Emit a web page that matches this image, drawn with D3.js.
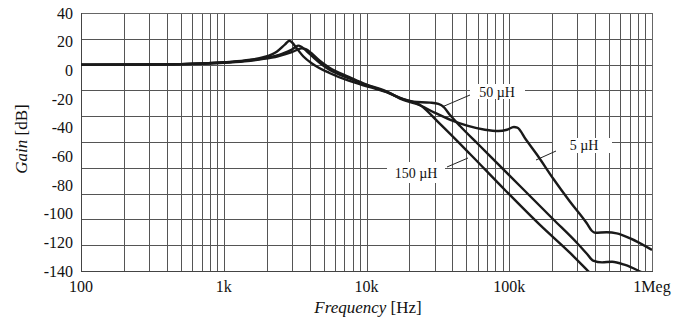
<!DOCTYPE html>
<html><head><meta charset="utf-8">
<script src="https://cdn.jsdelivr.net/npm/d3@7/dist/d3.min.js"></script>
<style>body{margin:0;background:#fff}svg{display:block}</style>
</head><body>
<svg id="chart" width="686" height="321"></svg>
<script>
// ---------- data ----------
const yTickLabels = [40, 20, 0, -20, -40, -60, -80, -100, -120, -140];
const xTickValues = [100, 1000, 10000, 100000, 1000000];
const xTickLabels = ["100", "1k", "10k", "100k", "1Meg"];
const seriesNames = ["150 µH", "50 µH", "5 µH"];

const freq150 = [100, 300, 500, 700, 1000, 1400, 1900, 2350, 2690, 2880, 3000, 3250, 3600, 4200, 5500, 7500, 9500, 14600, 17200, 23700, 32730, 53100, 93300, 164100, 266600, 356600, 432500];
const gain150 = [0, 0.1, 0.4, 0.9, 1.8, 3.2, 5.7, 10, 15.7, 18.5, 17.3, 12.5, 6.5, 0.5, -6.5, -12.5, -16, -22.5, -26, -31.3, -46, -69.3, -97.2, -124.3, -146, -160, -169.3];

const freq50 = [100, 300, 500, 700, 1000, 1400, 1900, 2400, 2900, 3150, 3330, 3500, 3800, 4300, 5000, 5500, 7500, 9500, 14600, 17200, 21290, 27860, 31860, 34530, 38470, 45200, 62400, 118900, 202300, 298500, 350900, 386600, 446800, 525000, 647600, 785000, 893000];
const gain50 = [0, 0.1, 0.35, 0.8, 1.6, 2.9, 4.8, 7.3, 10.8, 13.2, 14.7, 13.8, 10.5, 5, -1, -4, -10.5, -15, -22.3, -25.8, -28.8, -29.5, -30.5, -32.6, -39.1, -47.6, -63.1, -94.1, -119.7, -138.3, -146.8, -151.9, -153.3, -152.8, -155.3, -159.2, -162.3];

const freq5 = [100, 300, 500, 700, 1000, 1400, 1900, 2400, 3000, 3520, 3750, 4100, 4700, 5500, 7500, 9500, 14600, 17180, 23880, 29720, 39080, 51400, 67600, 84100, 96300, 107900, 113800, 130800, 155700, 203500, 266600, 349200, 378500, 399300, 482000, 566200, 704000, 1000000];
const gain5 = [0, 0.1, 0.3, 0.7, 1.4, 2.6, 4.4, 6.5, 9.6, 12.6, 12, 9, 3, -2.5, -9.5, -14.5, -22, -26.4, -31.7, -37, -43, -47.5, -50.5, -51.5, -50.5, -48.4, -48.8, -58.1, -69.5, -88.5, -106.3, -123, -128.8, -130.3, -130, -130.8, -134.7, -143.7];

// ---------- layout ----------
const L = 81, R = 652, T = 13, B = 271;
const FONT = "'Liberation Serif','Times New Roman',serif";
const svg = d3.select("#chart");

const x = d3.scaleLog().domain([100, 1e6]).range([L, R]);
const y = d3.scaleLinear().domain([40, -160]).range([T, B]);       // grid / data scale
const yLab = d3.scaleLinear().domain([40, -140]).range([T, B]);    // label positions as printed

// grid
const g = svg.append("g").attr("shape-rendering", "crispEdges");
const vLines = [];
for (let d = 100; d < 1e6; d *= 10) for (let k = 2; k <= 9; k++) vLines.push(d * k);
[1000, 10000, 100000].forEach(v => vLines.push(v));
g.selectAll("line.v").data(vLines).join("line")
  .attr("x1", d => Math.round(x(d)) + 0.5).attr("x2", d => Math.round(x(d)) + 0.5)
  .attr("y1", T).attr("y2", B).attr("stroke", "#555").attr("stroke-width", 1);
const hLines = d3.range(20, -160, -20);
g.selectAll("line.h").data(hLines).join("line")
  .attr("x1", L).attr("x2", R)
  .attr("y1", d => Math.round(y(d)) + 0.5).attr("y2", d => Math.round(y(d)) + 0.5)
  .attr("stroke", "#555").attr("stroke-width", 1);
g.append("rect").attr("x", L + 0.5).attr("y", T + 0.5).attr("width", R - L).attr("height", B - T)
  .attr("fill", "none").attr("stroke", "#666").attr("stroke-width", 1);
g.append("line").attr("x1", L + 0.5).attr("x2", L + 0.5).attr("y1", T).attr("y2", B + 1).attr("stroke", "#444").attr("stroke-width", 1.5);
g.append("line").attr("x1", L).attr("x2", R + 1).attr("y1", B + 0.5).attr("y2", B + 0.5).attr("stroke", "#444").attr("stroke-width", 1.5);

// label masks + pointers
const labels = [
  {name: seriesNames[1], tx: 497, ty: 97, mask: [470, 84, 55, 15], ptr: [470, 95, 442, 107]},
  {name: seriesNames[0], tx: 416, ty: 178, mask: [387, 162, 58, 21], ptr: [447, 167, 468, 158]},
  {name: seriesNames[2], tx: 584, ty: 150, mask: [553, 138, 59, 15], ptr: [556, 151, 536, 160]}
];
svg.selectAll("rect.mask").data(labels).join("rect")
  .attr("x", d => d.mask[0]).attr("y", d => d.mask[1]).attr("width", d => d.mask[2]).attr("height", d => d.mask[3])
  .attr("fill", "#fff");
svg.selectAll("line.ptr").data(labels).join("line")
  .attr("x1", d => d.ptr[0]).attr("y1", d => d.ptr[1]).attr("x2", d => d.ptr[2]).attr("y2", d => d.ptr[3])
  .attr("stroke", "#222").attr("stroke-width", 1);

// curves
svg.append("clipPath").attr("id", "clip").append("rect")
  .attr("x", L).attr("y", T).attr("width", R - L).attr("height", B - T);
const series = [
  {f: freq150, g: gain150},
  {f: freq50, g: gain50},
  {f: freq5, g: gain5}
];
const line = d3.line().x(d => x(d[0])).y(d => y(d[1])).curve(d3.curveMonotoneX);
svg.append("g").attr("clip-path", "url(#clip)")
  .selectAll("path").data(series).join("path")
  .attr("d", s => line(s.f.map((f, i) => [f, s.g[i]])))
  .attr("fill", "none").attr("stroke", "#1a1a1a").attr("stroke-width", 2.4)
  .attr("stroke-linejoin", "round");

svg.selectAll("text.lbl").data(labels).join("text")
  .attr("x", d => d.tx).attr("y", d => d.ty).attr("text-anchor", "middle")
  .attr("font-family", FONT).attr("font-size", 14).attr("fill", "#111").text(d => d.name);

// tick labels
svg.selectAll("text.yt").data(yTickLabels).join("text")
  .attr("x", 73).attr("y", d => yLab(d)).attr("dy", "0.35em").attr("text-anchor", "end")
  .attr("font-family", FONT).attr("font-size", 16).attr("fill", "#111").text(d => d);
svg.selectAll("text.xt").data(xTickValues).join("text")
  .attr("x", d => x(d)).attr("y", 292).attr("text-anchor", "middle")
  .attr("font-family", FONT).attr("font-size", 16).attr("fill", "#111").text((d, i) => xTickLabels[i]);

// axis titles
const xt = svg.append("text").attr("x", 368).attr("y", 313).attr("text-anchor", "middle")
  .attr("font-family", FONT).attr("font-size", 17).attr("fill", "#111");
xt.append("tspan").attr("font-style", "italic").text("Frequency");
xt.append("tspan").text(" [Hz]");
const yt = svg.append("text").attr("transform", "translate(27,139) rotate(-90)").attr("text-anchor", "middle")
  .attr("font-family", FONT).attr("font-size", 17).attr("fill", "#111");
yt.append("tspan").attr("font-style", "italic").text("Gain");
yt.append("tspan").text(" [dB]");
</script>
</body></html>
